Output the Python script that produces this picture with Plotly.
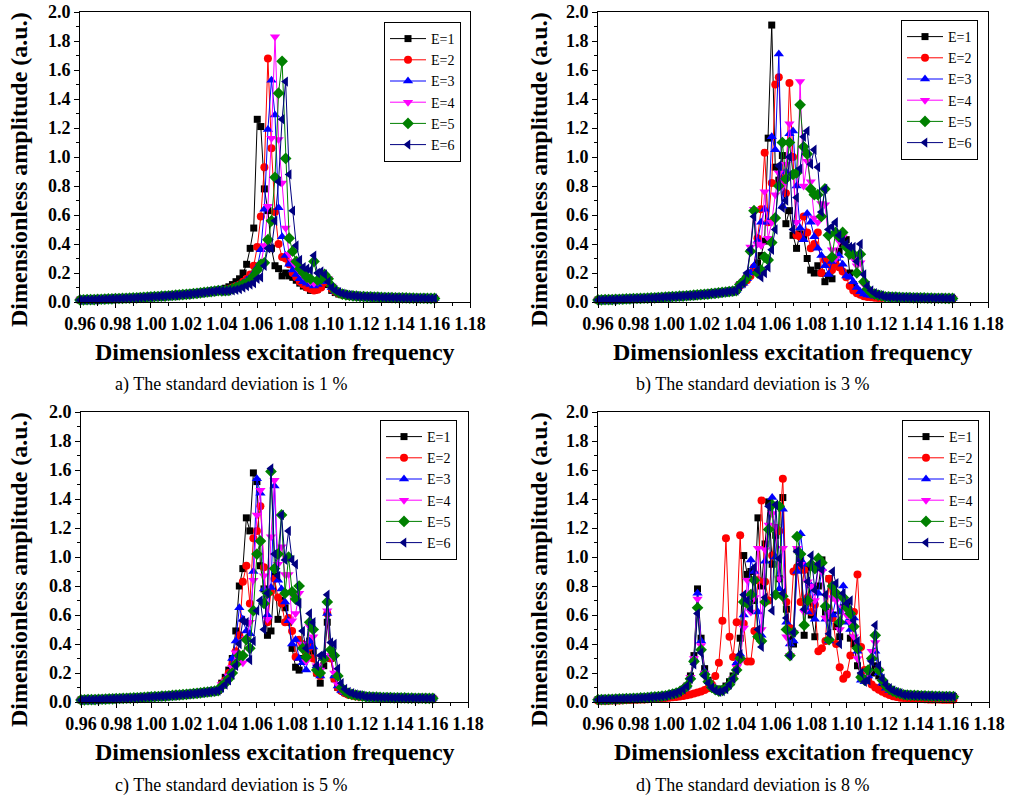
import plotly.graph_objects as go

# ---------------- data ----------------
STEP = 0.002
def grid(a, b):
    n = int(round((b - a) / STEP)) + 1
    return [round(a + i * STEP, 3) for i in range(n)]

freq = grid(0.96, 1.16)            # 101 excitation frequencies

series_names = ["E=1", "E=2", "E=3", "E=4", "E=5", "E=6"]
colors = ["#000000", "#FF0000", "#0000FF", "#FF00FF", "#008000", "#000080"]
symbols = ["square", "circle", "triangle-up", "triangle-down", "diamond", "triangle-left"]
marker_sizes = [7, 8, 9, 9, 9, 9]

x_tick_vals = [0.96, 0.98, 1.00, 1.02, 1.04, 1.06, 1.08, 1.10, 1.12, 1.14, 1.16, 1.18]
x_tick_text = ["0.96", "0.98", "1.00", "1.02", "1.04", "1.06", "1.08", "1.10", "1.12", "1.14", "1.16", "1.18"]
y_tick_vals = [0.0, 0.2, 0.4, 0.6, 0.8, 1.0, 1.2, 1.4, 1.6, 1.8, 2.0]
y_tick_text = ["0.0", "0.2", "0.4", "0.6", "0.8", "1.0", "1.2", "1.4", "1.6", "1.8", "2.0"]

captions = ["a) The standard deviation is 1 %", "b) The standard deviation is 3 %",
            "c) The standard deviation is 5 %", "d) The standard deviation is 8 %"]
x_title = "Dimensionless excitation frequency"
y_title = "Dimensionless amplitude (a.u.)"

# shared tails for panels a-c (0.960-1.038 and 1.122-1.160)
tail_left_abc = [0.014, 0.015, 0.016, 0.016, 0.017, 0.018, 0.019, 0.020, 0.021, 0.022,
                 0.023, 0.024, 0.025, 0.026, 0.027, 0.028, 0.029, 0.031, 0.032, 0.034,
                 0.035, 0.037, 0.038, 0.040, 0.041, 0.043, 0.045, 0.047, 0.049, 0.051,
                 0.053, 0.055, 0.058, 0.060, 0.063, 0.066, 0.069, 0.072, 0.075, 0.079]
tail_right_abc = [0.036, 0.035, 0.034, 0.033, 0.032, 0.031, 0.031, 0.030, 0.029, 0.029,
                  0.028, 0.028, 0.027, 0.027, 0.026, 0.026, 0.026, 0.025, 0.025, 0.025]

# panel a, 1.040-1.120
a_E1 = [0.085, 0.095, 0.105, 0.12, 0.14, 0.16, 0.20, 0.26, 0.37, 0.51,
        1.26, 1.21, 0.78, 0.63, 0.37, 0.25, 0.23, 0.18, 0.20, 0.18,
        0.17, 0.15, 0.13, 0.11, 0.10, 0.08, 0.08, 0.09, 0.11, 0.13,
        0.12, 0.08, 0.065, 0.055, 0.05, 0.045, 0.042, 0.04, 0.038, 0.037, 0.036]
a_E2 = [0.078, 0.085, 0.09, 0.10, 0.11, 0.12, 0.14, 0.16, 0.19, 0.25,
        0.38, 0.59, 0.93, 1.68, 1.06, 0.62, 0.40, 0.31, 0.30, 0.26,
        0.20, 0.17, 0.14, 0.12, 0.10, 0.09, 0.08, 0.085, 0.10, 0.14,
        0.13, 0.09, 0.07, 0.058, 0.05, 0.046, 0.042, 0.04, 0.038, 0.037, 0.036]
a_E3 = [0.078, 0.08, 0.09, 0.10, 0.11, 0.12, 0.13, 0.15, 0.17, 0.20,
        0.24, 0.36, 0.64, 1.19, 1.53, 1.29, 0.65, 0.45, 0.32, 0.26,
        0.22, 0.19, 0.16, 0.14, 0.13, 0.12, 0.11, 0.12, 0.14, 0.17,
        0.15, 0.10, 0.075, 0.06, 0.052, 0.047, 0.043, 0.04, 0.038, 0.037, 0.036]
a_E4 = [0.078, 0.08, 0.085, 0.095, 0.10, 0.11, 0.12, 0.13, 0.15, 0.18,
        0.21, 0.26, 0.39, 0.66, 1.13, 1.83, 1.12, 0.82, 0.51, 0.33,
        0.28, 0.25, 0.21, 0.18, 0.16, 0.14, 0.13, 0.14, 0.15, 0.17,
        0.16, 0.11, 0.08, 0.065, 0.055, 0.048, 0.044, 0.041, 0.039, 0.037, 0.036]
a_E5 = [0.077, 0.078, 0.08, 0.09, 0.10, 0.11, 0.12, 0.13, 0.15, 0.18,
        0.22, 0.26, 0.27, 0.43, 0.56, 0.86, 1.44, 1.66, 0.99, 0.44,
        0.35, 0.28, 0.23, 0.20, 0.17, 0.16, 0.28, 0.15, 0.16, 0.19,
        0.16, 0.11, 0.08, 0.065, 0.055, 0.049, 0.045, 0.042, 0.04, 0.038, 0.037]
a_E6 = [0.078, 0.078, 0.079, 0.08, 0.085, 0.09, 0.10, 0.11, 0.12, 0.13,
        0.16, 0.17, 0.25, 0.37, 0.37, 0.56, 0.83, 1.26, 1.52, 0.88,
        0.63, 0.39, 0.29, 0.24, 0.23, 0.22, 0.32, 0.20, 0.21, 0.19,
        0.14, 0.10, 0.08, 0.068, 0.058, 0.051, 0.047, 0.043, 0.041, 0.039, 0.037]

# panel b, 1.040-1.120
b_E1 = [0.12, 0.14, 0.17, 0.20, 0.22, 0.27, 0.32, 0.42, 1.13, 1.91,
        0.93, 0.84, 1.01, 0.54, 0.63, 0.46, 0.37, 0.47, 0.45, 0.30,
        0.22, 0.20, 0.25, 0.20, 0.14, 0.18, 0.16, 0.30, 0.35, 0.40,
        0.43, 0.20, 0.12, 0.08, 0.065, 0.055, 0.05, 0.045, 0.042, 0.04, 0.037]
b_E2 = [0.11, 0.13, 0.15, 0.18, 0.24, 0.44, 0.64, 1.03, 0.55, 0.82,
        1.50, 1.55, 0.85, 0.75, 1.51, 1.00, 0.46, 0.45, 0.59, 0.48,
        0.37, 0.40, 0.48, 0.20, 0.29, 0.26, 0.22, 0.26, 0.24, 0.21,
        0.17, 0.11, 0.08, 0.06, 0.05, 0.04, 0.035, 0.032, 0.03, 0.028, 0.027]
b_E3 = [0.11, 0.13, 0.16, 0.20, 0.25, 0.42, 0.55, 0.64, 0.55, 1.14,
        1.05, 1.71, 0.66, 0.90, 1.16, 1.18, 0.80, 0.51, 0.43, 0.61,
        0.55, 0.45, 0.37, 0.32, 0.25, 0.19, 0.28, 0.30, 0.32, 0.26,
        0.18, 0.17, 0.14, 0.10, 0.07, 0.055, 0.048, 0.044, 0.04, 0.038, 0.036]
b_E4 = [0.12, 0.14, 0.17, 0.38, 0.64, 0.40, 0.39, 0.76, 0.44, 0.55,
        0.74, 0.89, 0.80, 0.95, 1.23, 0.89, 0.55, 1.52, 0.80, 0.97,
        0.83, 0.58, 0.55, 0.68, 0.67, 0.45, 0.36, 0.30, 0.42, 0.45,
        0.38, 0.33, 0.30, 0.25, 0.27, 0.12, 0.08, 0.06, 0.05, 0.045, 0.04]
b_E5 = [0.12, 0.14, 0.17, 0.35, 0.63, 0.20, 0.22, 0.31, 0.29, 0.41,
        0.58, 0.80, 1.10, 0.85, 1.10, 0.88, 0.89, 1.36, 1.07, 1.02,
        0.78, 0.74, 0.74, 0.59, 0.78, 0.46, 0.31, 0.48, 0.45, 0.48,
        0.38, 0.33, 0.33, 0.20, 0.33, 0.14, 0.09, 0.065, 0.055, 0.048, 0.042]
b_E6 = [0.11, 0.13, 0.20, 0.36, 0.59, 0.22, 0.17, 0.20, 0.24, 0.36,
        0.50, 0.94, 0.65, 0.70, 1.00, 0.50, 0.72, 0.92, 1.14, 1.18,
        0.95, 1.05, 0.93, 0.62, 0.78, 0.50, 0.52, 0.55, 0.46, 0.42,
        0.40, 0.38, 0.38, 0.28, 0.40, 0.19, 0.11, 0.08, 0.06, 0.05, 0.045]

# panel c, 1.040-1.120
c_E1 = [0.13, 0.17, 0.22, 0.30, 0.49, 0.80, 0.92, 1.27, 1.18, 1.58,
        1.52, 0.94, 0.78, 0.46, 0.49, 0.87, 0.57, 0.70, 0.65, 0.55,
        0.37, 0.24, 0.22, 0.30, 0.35, 0.42, 0.35, 0.20, 0.13, 0.25,
        0.55, 0.30, 0.16, 0.10, 0.08, 0.065, 0.055, 0.05, 0.045, 0.04, 0.038]
c_E2 = [0.12, 0.15, 0.20, 0.26, 0.35, 0.46, 0.83, 0.94, 0.68, 1.13,
        1.18, 1.35, 0.93, 0.55, 0.76, 0.85, 0.72, 0.68, 0.55, 0.58,
        0.49, 0.31, 0.43, 0.40, 0.32, 0.38, 0.30, 0.20, 0.18, 0.30,
        0.61, 0.30, 0.16, 0.10, 0.075, 0.06, 0.05, 0.045, 0.04, 0.037, 0.035]
c_E3 = [0.12, 0.15, 0.19, 0.30, 0.42, 0.65, 0.57, 0.49, 0.47, 0.90,
        1.54, 1.44, 0.78, 0.60, 0.79, 1.49, 0.84, 0.78, 0.69, 0.56,
        0.40, 0.43, 0.30, 0.27, 0.22, 0.42, 0.38, 0.25, 0.18, 0.30,
        0.61, 0.33, 0.18, 0.11, 0.08, 0.065, 0.055, 0.05, 0.045, 0.04, 0.038]
c_E4 = [0.12, 0.14, 0.18, 0.24, 0.34, 0.29, 0.27, 0.44, 0.55, 0.84,
        1.29, 1.46, 0.87, 0.57, 1.14, 1.53, 0.95, 1.07, 0.88, 0.88,
        0.56, 0.61, 0.75, 0.40, 0.28, 0.52, 0.45, 0.25, 0.22, 0.30,
        0.63, 0.32, 0.20, 0.12, 0.085, 0.07, 0.058, 0.05, 0.046, 0.042, 0.039]
c_E5 = [0.11, 0.13, 0.16, 0.20, 0.26, 0.32, 0.32, 0.43, 0.37, 0.63,
        1.02, 1.11, 0.68, 0.75, 1.59, 0.92, 1.02, 1.29, 0.75, 1.00,
        0.76, 0.71, 0.80, 0.37, 0.31, 0.55, 0.50, 0.22, 0.20, 0.30,
        0.69, 0.36, 0.32, 0.18, 0.10, 0.075, 0.06, 0.052, 0.047, 0.043, 0.04]
c_E6 = [0.10, 0.12, 0.15, 0.19, 0.25, 0.40, 0.56, 0.55, 0.29, 0.42,
        0.63, 0.70, 0.50, 0.75, 1.61, 1.02, 0.87, 1.29, 0.98, 1.18,
        0.98, 0.95, 0.68, 0.49, 0.37, 0.61, 0.55, 0.25, 0.32, 0.33,
        0.74, 0.41, 0.40, 0.23, 0.13, 0.09, 0.07, 0.06, 0.052, 0.047, 0.043]

# panel d tails (0.960-0.998 and 1.132-1.160)
tail_left_d = [0.016, 0.017, 0.017, 0.018, 0.019, 0.020, 0.021, 0.022, 0.023, 0.024,
               0.025, 0.026, 0.028, 0.029, 0.031, 0.033, 0.035, 0.037, 0.040, 0.043]
tail_left_d_E2 = [0.008, 0.008, 0.009, 0.009, 0.010, 0.010, 0.011, 0.012, 0.013, 0.014,
                  0.015, 0.016, 0.017, 0.018, 0.019, 0.020, 0.022, 0.024, 0.026, 0.028]
tail_right_d = [0.050, 0.048, 0.046, 0.045, 0.044, 0.043, 0.042, 0.041, 0.040, 0.039,
                0.039, 0.038, 0.038, 0.037, 0.037]
tail_right_d_E2 = [0.027, 0.025, 0.023, 0.022, 0.021, 0.020, 0.019, 0.018, 0.018, 0.017,
                   0.017, 0.016, 0.016, 0.016, 0.015]

# panel d, 1.000-1.130
d_E1 = [0.05, 0.055, 0.062, 0.072, 0.088, 0.11, 0.18, 0.32, 0.78, 0.44,
        0.23, 0.15, 0.11, 0.09, 0.08, 0.09, 0.11, 0.14, 0.18, 0.25,
        0.44, 1.01, 0.88, 0.90, 0.70, 1.27, 0.80, 1.09, 1.38, 0.95,
        1.15, 0.85, 1.41, 0.64, 0.45, 0.40, 1.05, 0.98, 0.46, 0.93,
        0.60, 0.45, 0.80, 0.98, 0.62, 0.85, 0.60, 0.52, 0.45, 0.65,
        0.68, 0.44, 0.40, 0.25, 0.18, 0.15, 0.16, 0.20, 0.25, 0.18,
        0.12, 0.09, 0.075, 0.065, 0.058, 0.052]
d_E2 = [0.03, 0.032, 0.035, 0.038, 0.042, 0.047, 0.052, 0.058, 0.065, 0.073,
        0.083, 0.095, 0.12, 0.18, 0.27, 0.56, 1.13, 0.45, 0.31, 0.55,
        1.15, 0.54, 0.28, 0.28, 0.49, 0.84, 1.39, 0.83, 0.70, 1.01,
        1.20, 1.18, 1.54, 0.69, 0.51, 0.90, 0.93, 0.69, 0.91, 0.72,
        0.62, 0.67, 0.35, 0.37, 0.42, 0.85, 0.58, 0.40, 0.24, 0.16,
        0.19, 0.32, 0.62, 0.88, 0.38, 0.22, 0.15, 0.12, 0.10, 0.085,
        0.07, 0.058, 0.048, 0.04, 0.034, 0.03]
d_E3 = [0.05, 0.055, 0.062, 0.072, 0.088, 0.11, 0.17, 0.30, 0.75, 0.42,
        0.21, 0.15, 0.11, 0.09, 0.08, 0.085, 0.10, 0.13, 0.17, 0.27,
        0.33, 0.60, 0.70, 0.98, 0.90, 0.62, 0.46, 0.97, 1.20, 1.41,
        1.00, 0.78, 1.33, 0.55, 0.40, 0.42, 0.90, 1.16, 0.95, 0.62,
        0.80, 0.57, 0.75, 0.92, 0.57, 0.42, 0.60, 0.72, 0.62, 0.80,
        0.55, 0.50, 0.58, 0.35, 0.15, 0.14, 0.18, 0.30, 0.35, 0.20,
        0.13, 0.095, 0.08, 0.068, 0.06, 0.054]
d_E4 = [0.05, 0.055, 0.062, 0.072, 0.088, 0.11, 0.17, 0.30, 0.71, 0.39,
        0.20, 0.14, 0.11, 0.085, 0.075, 0.08, 0.095, 0.12, 0.16, 0.24,
        0.28, 0.51, 0.84, 0.62, 0.72, 1.06, 0.50, 1.05, 1.22, 1.30,
        1.21, 0.85, 1.06, 0.45, 0.32, 0.48, 1.06, 0.95, 0.62, 0.83,
        0.80, 0.70, 0.95, 0.90, 0.58, 0.62, 0.72, 0.70, 0.50, 0.65,
        0.60, 0.55, 0.45, 0.30, 0.16, 0.15, 0.20, 0.35, 0.41, 0.22,
        0.14, 0.10, 0.085, 0.07, 0.062, 0.055]
d_E5 = [0.05, 0.055, 0.062, 0.072, 0.088, 0.11, 0.16, 0.28, 0.65, 0.36,
        0.19, 0.14, 0.10, 0.085, 0.075, 0.08, 0.095, 0.12, 0.16, 0.22,
        0.30, 0.69, 0.68, 0.74, 0.84, 0.45, 0.42, 0.69, 1.19, 1.36,
        0.74, 1.35, 0.73, 0.50, 0.32, 0.48, 1.14, 1.02, 0.53, 0.70,
        0.95, 0.92, 0.99, 0.96, 0.66, 0.43, 0.80, 0.75, 0.55, 0.72,
        0.65, 0.61, 0.52, 0.37, 0.17, 0.15, 0.22, 0.30, 0.46, 0.22,
        0.15, 0.11, 0.09, 0.075, 0.065, 0.058]
d_E6 = [0.05, 0.055, 0.062, 0.072, 0.088, 0.11, 0.16, 0.26, 0.61, 0.34,
        0.18, 0.13, 0.10, 0.08, 0.07, 0.075, 0.09, 0.12, 0.16, 0.22,
        0.33, 0.74, 0.70, 0.64, 0.93, 0.50, 0.38, 0.72, 1.35, 0.63,
        1.36, 0.99, 0.75, 0.58, 0.32, 0.48, 1.04, 0.95, 0.64, 0.83,
        1.01, 0.77, 0.95, 0.91, 0.74, 0.47, 0.90, 0.82, 0.40, 0.75,
        0.68, 0.70, 0.56, 0.42, 0.20, 0.14, 0.15, 0.28, 0.53, 0.25,
        0.16, 0.12, 0.095, 0.08, 0.068, 0.06]

panel_a = [tail_left_abc + m + tail_right_abc for m in (a_E1, a_E2, a_E3, a_E4, a_E5, a_E6)]
panel_b = [tail_left_abc + m + tail_right_abc for m in (b_E1, b_E2, b_E3, b_E4, b_E5, b_E6)]
panel_c = [tail_left_abc + m + tail_right_abc for m in (c_E1, c_E2, c_E3, c_E4, c_E5, c_E6)]
panel_d = [
    tail_left_d + d_E1 + tail_right_d,
    tail_left_d_E2 + d_E2 + tail_right_d_E2,
    tail_left_d + d_E3 + tail_right_d,
    tail_left_d + d_E4 + tail_right_d,
    tail_left_d + d_E5 + tail_right_d,
    tail_left_d + d_E6 + tail_right_d,
]
panels = [panel_a, panel_b, panel_c, panel_d]
for p in panels:
    for s in p:
        assert len(s) == len(freq), len(s)

# ---------------- layout ----------------
W, H = 1013, 797
def px(x):
    return x / W
def py(y):
    return 1 - y / H

SERIF = "Liberation Serif, Times New Roman, serif"
# plot rectangles in window pixels: (left, right, top, bottom)
rects = [(80, 470, 12, 302), (598, 988, 12, 302), (81, 468, 412, 702), (598, 989, 412, 702)]
legend_pos = [(461, 22), (978, 20), (457, 420), (979, 420)]   # right, top
ytitle_pos = [(19, 170), (539, 170), (19, 570), (539, 570)]
xtitle_y = [352, 352, 752, 752]
caption_pos = [(113, 384), (634, 384), (113, 785), (634, 785)]

fig = go.Figure()
for pi, pdata in enumerate(panels):
    k = "" if pi == 0 else str(pi + 1)
    lg = "legend" if pi == 0 else f"legend{pi + 1}"
    for si, vals in enumerate(pdata):
        fig.add_trace(go.Scatter(
            x=freq, y=vals, mode="lines+markers", name=series_names[si],
            xaxis="x" + k, yaxis="y" + k, legend=lg, cliponaxis=False,
            line=dict(color=colors[si], width=1),
            marker=dict(symbol=symbols[si], color=colors[si], size=marker_sizes[si]),
        ))

layout = dict(template="none", width=W, height=H, margin=dict(l=0, r=0, t=0, b=0, pad=0),
              paper_bgcolor="white", plot_bgcolor="white", showlegend=True,
              font=dict(family=SERIF, color="black"))
tickfont = dict(family=SERIF, size=18, color="black", weight="bold")
annotations = []
for pi, (l, r, t, b) in enumerate(rects):
    k = "" if pi == 0 else str(pi + 1)
    layout["xaxis" + k] = dict(
        domain=[px(l), px(r)], anchor="y" + k, range=[0.96, 1.18], automargin=False,
        tickmode="array", tickvals=x_tick_vals, ticktext=x_tick_text,
        ticks="outside", ticklen=5, tickwidth=1, tickcolor="black",
        minor=dict(tick0=0.96, dtick=0.01, ticks="outside", ticklen=3, tickcolor="black", showgrid=False),
        showline=True, linecolor="black", linewidth=1, mirror=True,
        showgrid=False, zeroline=False, tickfont=tickfont)
    layout["yaxis" + k] = dict(
        domain=[py(b), py(t)], anchor="x" + k, range=[0, 2.0], automargin=False,
        tickmode="array", tickvals=y_tick_vals, ticktext=y_tick_text,
        ticks="outside", ticklen=5, tickwidth=1, tickcolor="black",
        minor=dict(tick0=0, dtick=0.1, ticks="outside", ticklen=3, tickcolor="black", showgrid=False),
        showline=True, linecolor="black", linewidth=1, mirror=True,
        showgrid=False, zeroline=False, tickfont=tickfont)
    lx, ly = legend_pos[pi]
    layout["legend" if pi == 0 else f"legend{pi + 1}"] = dict(
        x=px(lx), y=py(ly), xanchor="right", yanchor="top", xref="paper", yref="paper",
        bgcolor="white", bordercolor="black", borderwidth=1,
        font=dict(family=SERIF, size=14, color="black"), tracegroupgap=0, itemwidth=36)
    yx, yy = ytitle_pos[pi]
    annotations.append(dict(text=y_title, x=px(yx), y=py(yy), xref="paper", yref="paper",
                            xanchor="center", yanchor="middle", textangle=-90, showarrow=False,
                            font=dict(family=SERIF, size=24, color="black", weight="bold")))
    annotations.append(dict(text=x_title, x=px((l + r) / 2), y=py(xtitle_y[pi]), xref="paper", yref="paper",
                            xanchor="center", yanchor="middle", showarrow=False,
                            font=dict(family=SERIF, size=24, color="black", weight="bold")))
    cx, cy = caption_pos[pi]
    annotations.append(dict(text=captions[pi], x=px(cx), y=py(cy), xref="paper", yref="paper",
                            xanchor="left", yanchor="middle", showarrow=False,
                            font=dict(family=SERIF, size=18, color="black")))
layout["annotations"] = annotations
fig.update_layout(**layout)
# remove the page's default 8px body margin so the figure fills the window exactly
fig.write_html("out.html", config={"displayModeBar": False},
               post_script="document.body.style.margin='0';document.body.style.overflow='hidden';")
